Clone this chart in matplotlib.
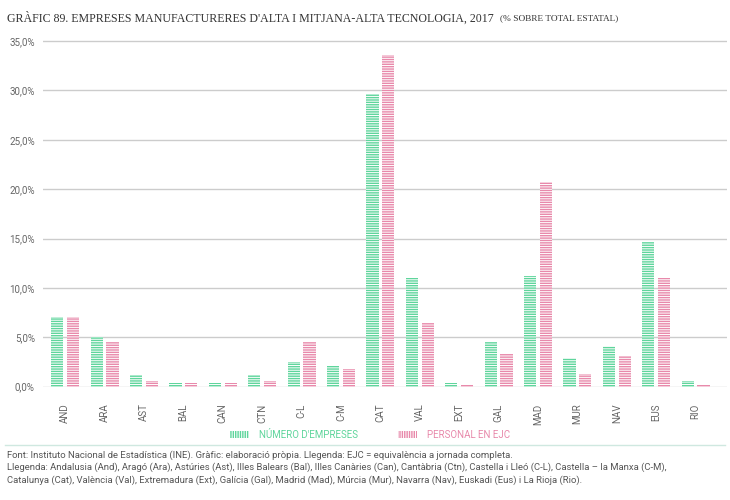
import matplotlib.pyplot as plt
from matplotlib.patches import Rectangle
import numpy as np

# data (% over state total)
regions = ["AND", "ARA", "AST", "BAL", "CAN", "CTN", "C-L", "C-M", "CAT",
           "VAL", "EXT", "GAL", "MAD", "MUR", "NAV", "EUS", "RIO"]
empreses = [7.1, 5.05, 1.15, 0.37, 0.37, 1.15, 2.53, 2.1, 29.6,
            11.0, 0.4, 4.5, 11.25, 2.92, 4.1, 14.6, 0.6]
personal = [7.1, 4.5, 0.6, 0.37, 0.37, 0.6, 4.5, 1.75, 33.6,
            6.45, 0.17, 3.3, 20.7, 1.33, 3.08, 11.05, 0.17]
yticks = [0, 5, 10, 15, 20, 25, 30, 35]

GREEN = "#5fd59c"
PINK = "#e889ab"
GREY = "#666666"

plt.rcParams["hatch.linewidth"] = 0.7
plt.rcParams["font.family"] = ["Roboto", "DejaVu Sans"]

fig = plt.figure(figsize=(7.3, 5.0), dpi=100)
ax = fig.add_axes([0.059, 0.2266, 0.937, 0.6954])

x = np.arange(len(regions))
w = 0.31
ax.bar(x - 0.2, empreses, w, color=GREEN, edgecolor="white", linewidth=0,
       hatch="-------", zorder=3)
ax.bar(x + 0.2, personal, w, color=PINK, edgecolor="white", linewidth=0,
       hatch="-------", zorder=3)

ax.set_xlim(-0.56, 16.8)
ax.set_ylim(0, 35.2)
ax.set_yticks(yticks)
ax.set_yticklabels([f"{v:.1f}%".replace(".", ",") for v in yticks])
ax.set_xticks(x)
ax.set_xticklabels(regions, rotation=90, va="top")
ax.grid(axis="y", color="#cccccc", linewidth=1, zorder=0)
ax.tick_params(length=0, labelsize=7, colors=GREY)
ax.tick_params(axis="x", pad=12)
ax.tick_params(axis="y", pad=6)
for s in ax.spines.values():
    s.set_visible(False)

# title, sized so that it runs to about x=490px like the original
title = fig.text(0.01, 1 - 18 / 500,
                 "GRÀFIC 89. EMPRESES MANUFACTURERES D'ALTA I MITJANA-ALTA TECNOLOGIA, 2017",
                 family="Liberation Serif", fontsize=9, color="#333333", va="center")
r = fig.canvas.get_renderer()
fs = 9 * 483 / title.get_window_extent(r).width
title.set_fontsize(fs)
ax.annotate("(% SOBRE TOTAL ESTATAL)", xy=(1, 0.5), xycoords=title,
            xytext=(4, 0), textcoords="offset points", va="center",
            family="Liberation Serif", fontsize=fs * 0.78, color="#333333",
            annotation_clip=False)

# legend
h1 = Rectangle((0, 0), 1, 1, facecolor=GREEN, edgecolor="white", linewidth=0, hatch="|||||||")
h2 = Rectangle((0, 0), 1, 1, facecolor=PINK, edgecolor="white", linewidth=0, hatch="|||||||")
leg = fig.legend([h1, h2], ["NÚMERO D'EMPRESES", "PERSONAL EN EJC"], loc="center",
                 bbox_to_anchor=(0.507, 1 - 435 / 500), ncol=2, frameon=False,
                 fontsize=7, handlelength=1.9, handleheight=0.8, handletextpad=1.0,
                 columnspacing=4.2)
leg.get_texts()[0].set_color(GREEN)
leg.get_texts()[1].set_color(PINK)

fig.add_artist(plt.Line2D([0.007, 0.993], [1 - 445 / 500] * 2, color="#cfe8e0", linewidth=1))

notes = [
    "Font: Instituto Nacional de Estadística (INE). Gràfic: elaboració pròpia. Llegenda: EJC = equivalència a jornada completa.",
    "Llegenda: Andalusia (And), Aragó (Ara), Astúries (Ast), Illes Balears (Bal), Illes Canàries (Can), Cantàbria (Ctn), Castella i Lleó (C-L), Castella – la Manxa (C-M),",
    "Catalunya (Cat), València (Val), Extremadura (Ext), Galícia (Gal), Madrid (Mad), Múrcia (Mur), Navarra (Nav), Euskadi (Eus) i La Rioja (Rio).",
]
for i, line in enumerate(notes):
    fig.text(0.01, 1 - (455 + i * 12.5) / 500, line, fontsize=6.8, color="#555555",
             va="center")

fig.savefig("out.png", dpi=100)
